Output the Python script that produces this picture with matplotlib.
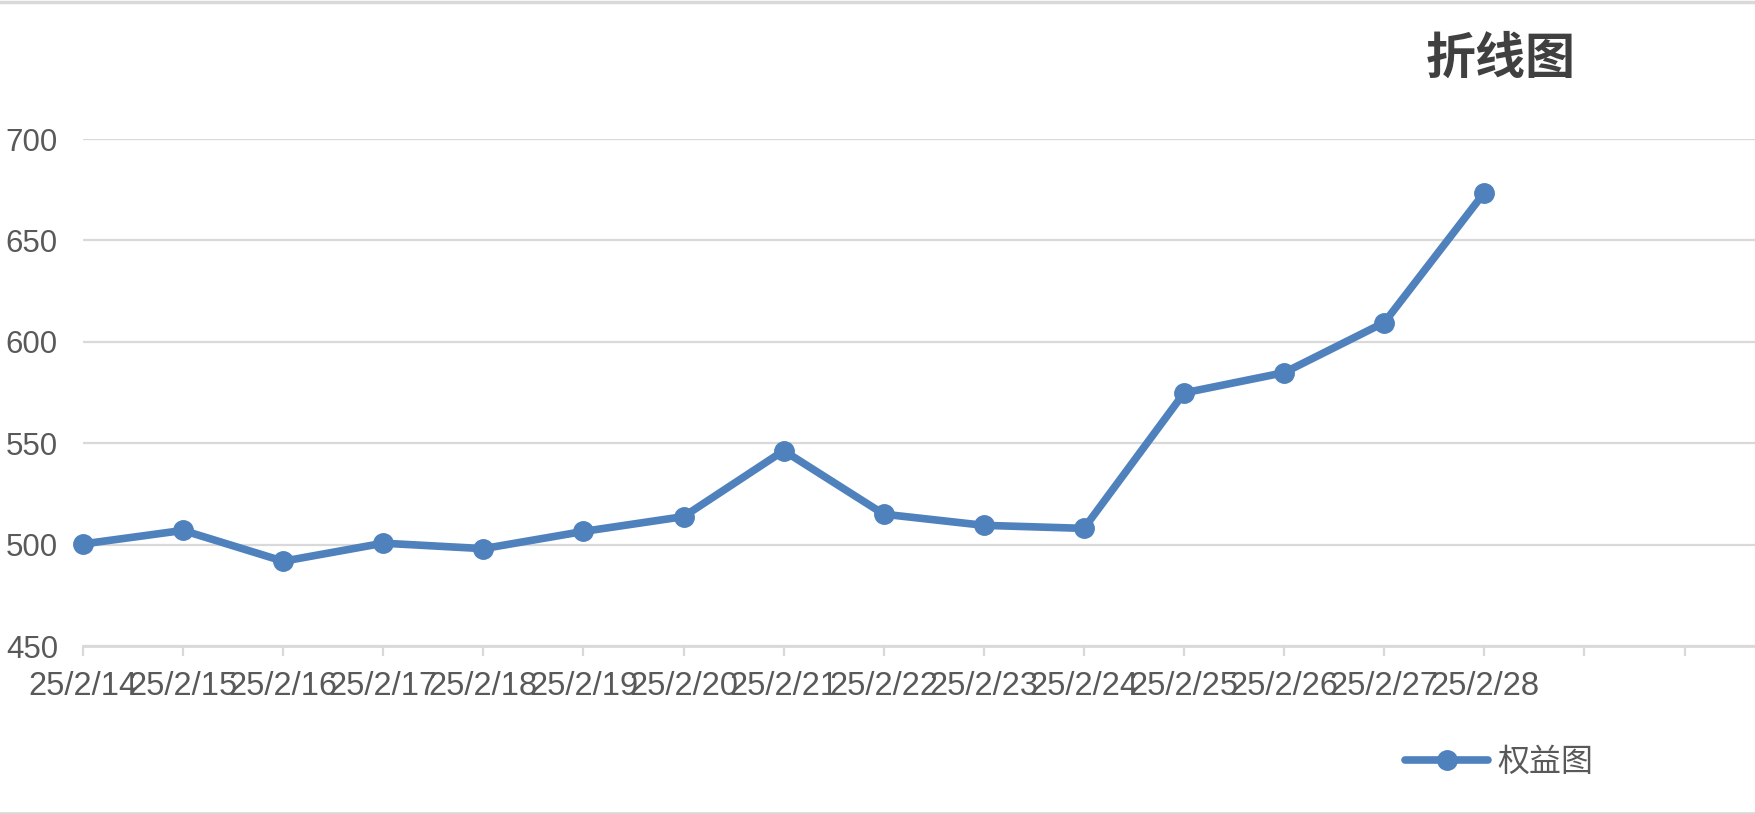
import matplotlib
matplotlib.use("Agg")
import matplotlib.pyplot as plt
from matplotlib.lines import Line2D

plt.rcParams['font.family'] = ['Liberation Sans', 'Noto Sans CJK SC', 'DejaVu Sans']

# ---- data ----
dates = ["25/2/14", "25/2/15", "25/2/16", "25/2/17", "25/2/18", "25/2/19", "25/2/20",
         "25/2/21", "25/2/22", "25/2/23", "25/2/24", "25/2/25", "25/2/26", "25/2/27", "25/2/28"]
equity = [500.3, 507.0, 491.8, 500.7, 498.0, 506.5, 513.8,
          546.3, 515.0, 509.5, 508.0, 574.8, 584.8, 609.5, 673.6]
yticks = [450, 500, 550, 600, 650, 700]
title = "折线图"
series_name = "权益图"

W, H = 1756, 814
fig = plt.figure(figsize=(W / 100, H / 100), dpi=100)

left, right = 83, 1756
top, bottom = 139, 646
ax = fig.add_axes([left / W, 1 - bottom / H, (right - left) / W, (bottom - top) / H])

x = list(range(len(dates)))
line_color = "#4f81bd"
ax.plot(x, equity, color=line_color, linewidth=5.5, marker="o", markersize=14,
        solid_capstyle="round", solid_joinstyle="round", label=series_name, zorder=3,
        clip_on=False)

ax.set_ylim(yticks[0], yticks[-1])
ax.set_yticks(yticks)
ax.set_yticklabels([str(v) for v in yticks])
step = 100.1
ax.set_xlim(0, (right - left) / step)
ax.set_xticks(range(17))
ax.set_xticklabels(dates + ["", ""])

grid_color = "#d9d9d9"
ax.grid(axis="y", color=grid_color, linewidth=1.6, zorder=0)
ax.set_axisbelow(True)
for s in ["top", "right", "left"]:
    ax.spines[s].set_visible(False)
ax.spines["bottom"].set_color(grid_color)
ax.spines["bottom"].set_linewidth(2)

ax.tick_params(axis="y", length=0, pad=18, labelsize=22.5, labelcolor="#595959")
ax.tick_params(axis="x", length=7, width=1.6, color=grid_color, pad=11,
               labelsize=23.5, labelcolor="#595959")

fig.text(1501 / W, 1 - 59 / H, title, ha="center", va="center", fontsize=36,
         fontweight="bold", color="#404040", family=["Noto Sans CJK SC", "DejaVu Sans"])

leg = fig.legend(handles=[Line2D([], [], color=line_color, linewidth=5.5, marker="o",
                                 markersize=14, solid_capstyle="round")],
                 labels=[series_name], loc="center left",
                 bbox_to_anchor=(1405 / W, 1 - 762 / H), frameon=False,
                 handlelength=2.6, handletextpad=0.3, borderpad=0, borderaxespad=0,
                 prop={"family": ["Noto Sans CJK SC", "DejaVu Sans"], "size": 23})
for t in leg.get_texts():
    t.set_color("#595959")

# top and bottom frame lines
fig.add_artist(Line2D([0, 1], [1 - 1.5 / H, 1 - 1.5 / H], transform=fig.transFigure,
                      color="#d9d9d9", linewidth=2.5))
fig.add_artist(Line2D([0, 1], [1.5 / H, 1.5 / H], transform=fig.transFigure,
                      color="#d9d9d9", linewidth=2.0))

fig.savefig("out.png", dpi=100)
